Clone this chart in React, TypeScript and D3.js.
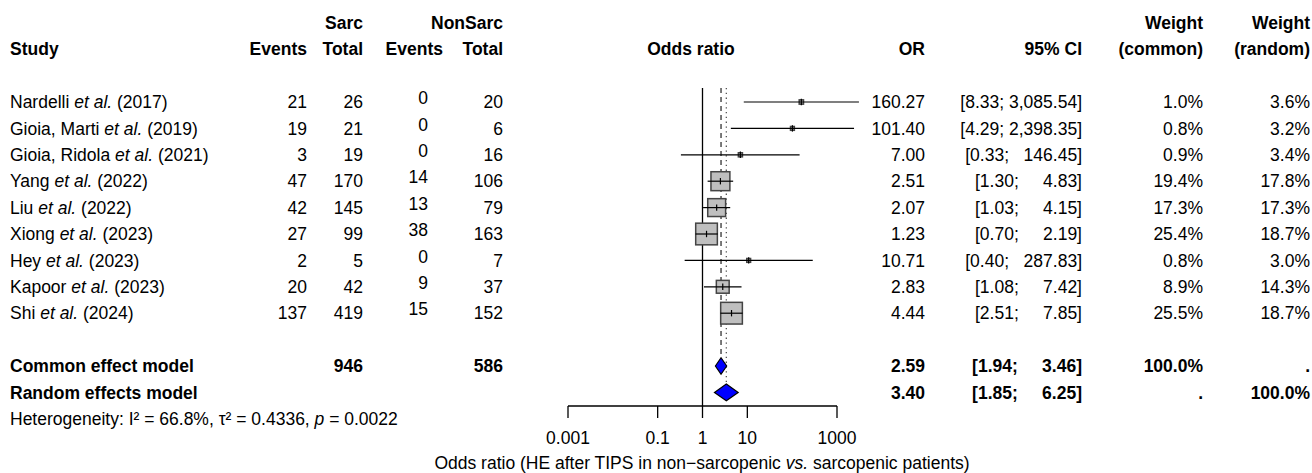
import * as d3 from "d3";

// study rows
const authors = ["Nardelli", "Gioia, Marti", "Gioia, Ridola", "Yang", "Liu", "Xiong", "Hey", "Kapoor", "Shi"];
const years = [2017, 2019, 2021, 2022, 2022, 2023, 2023, 2023, 2024];
const sarcEvents = [21, 19, 3, 47, 42, 27, 2, 20, 137];
const sarcTotal = [26, 21, 19, 170, 145, 99, 5, 42, 419];
const nonEvents = [0, 0, 0, 14, 13, 38, 0, 9, 15];
const nonTotal = [20, 6, 16, 106, 79, 163, 7, 37, 152];
const oddsRatio = [160.27, 101.4, 7.0, 2.51, 2.07, 1.23, 10.71, 2.83, 4.44];
const ciLower = [8.33, 4.29, 0.33, 1.3, 1.03, 0.7, 0.4, 1.08, 2.51];
const ciUpper = [3085.54, 2398.35, 146.45, 4.83, 4.15, 2.19, 287.83, 7.42, 7.85];
const weightCommon = [1.0, 0.8, 0.9, 19.4, 17.3, 25.4, 0.8, 8.9, 25.5];
const weightRandom = [3.6, 3.2, 3.4, 17.8, 17.3, 18.7, 3.0, 14.3, 18.7];

// pooled rows
const modelLabels = ["Common effect model", "Random effects model"];
const modelSarcTotal = ["946", ""];
const modelNonTotal = ["586", ""];
const modelOR = [2.59, 3.4];
const modelLower = [1.94, 1.85];
const modelUpper = [3.46, 6.25];
const modelWeightCommon = ["100.0%", "."];
const modelWeightRandom = [".", "100.0%"];

const axisTicks = [0.001, 0.1, 1, 10, 1000];

const width = 1312;
const height = 473;
const font = "'Liberation Sans', Arial, Helvetica, sans-serif";
const fs = 17.5;

// column right edges
const colSarcEv = 307;
const colSarcTot = 363;
const colNonEvHead = 443;
const colNonEv = 428;
const colNonTot = 503;
const colOR = 925;
const colCI = 1082;
const colWC = 1203;
const colWR = 1310;

const f2 = d3.format(",.2f");
const f1 = d3.format(".1f");
const ciText = (lo: number, hi: number) => `[${f2(lo)}; ${f2(hi).padStart(8, " ")}]`;

export default function App() {
  const x = d3.scaleLog().domain([0.001, 1000]).range([568, 837]);
  const rowY = d3.scaleLinear().domain([0, 1]).range([102, 128.4]);
  const box = d3.scaleSqrt().domain([0, 25.5]).range([0, 21.7]);

  const yTop = rowY(0) - 14;
  const yAxis = 406;
  const diamondH = 8.3;

  const txt = (props: any, content: any) => (
    <text fontFamily={font} fontSize={fs} dy="0.35em" style={{ whiteSpace: "pre" }} {...props}>
      {content}
    </text>
  );

  return (
    <svg width={width} height={height} style={{ position: "absolute", left: 0, top: 0, background: "#fff" }}>
      {/* headers */}
      {txt({ x: colSarcTot, y: rowY(-3), textAnchor: "end", fontWeight: "bold" }, "Sarc")}
      {txt({ x: colNonTot, y: rowY(-3), textAnchor: "end", fontWeight: "bold" }, "NonSarc")}
      {txt({ x: colWC, y: rowY(-3), textAnchor: "end", fontWeight: "bold" }, "Weight")}
      {txt({ x: colWR, y: rowY(-3), textAnchor: "end", fontWeight: "bold" }, "Weight")}
      {txt({ x: 10, y: rowY(-2), fontWeight: "bold" }, "Study")}
      {txt({ x: colSarcEv, y: rowY(-2), textAnchor: "end", fontWeight: "bold" }, "Events")}
      {txt({ x: colSarcTot, y: rowY(-2), textAnchor: "end", fontWeight: "bold" }, "Total")}
      {txt({ x: colNonEvHead, y: rowY(-2), textAnchor: "end", fontWeight: "bold" }, "Events")}
      {txt({ x: colNonTot, y: rowY(-2), textAnchor: "end", fontWeight: "bold" }, "Total")}
      {txt({ x: 691, y: rowY(-2), textAnchor: "middle", fontWeight: "bold" }, "Odds ratio")}
      {txt({ x: colOR, y: rowY(-2), textAnchor: "end", fontWeight: "bold" }, "OR")}
      {txt({ x: colCI, y: rowY(-2), textAnchor: "end", fontWeight: "bold" }, "95% CI")}
      {txt({ x: colWC, y: rowY(-2), textAnchor: "end", fontWeight: "bold" }, "(common)")}
      {txt({ x: colWR, y: rowY(-2), textAnchor: "end", fontWeight: "bold" }, "(random)")}

      {/* reference lines */}
      <line x1={x(1)} x2={x(1)} y1={yTop} y2={yAxis} stroke="#000" strokeWidth={1.3} />
      <line x1={x(modelOR[0])} x2={x(modelOR[0])} y1={yTop} y2={rowY(10) - diamondH - 1}
        stroke="#333" strokeWidth={1.3} strokeDasharray="5,4" />
      <line x1={x(modelOR[1])} x2={x(modelOR[1])} y1={yTop} y2={rowY(11) - diamondH - 1}
        stroke="#555" strokeWidth={1.3} strokeDasharray="1.3,3.5" />

      {/* study rows */}
      {authors.map((a, i) => {
        const y = rowY(i);
        const s = box(weightCommon[i]);
        return (
          <g key={a}>
            <text x={10} y={y} dy="0.35em" fontFamily={font} fontSize={fs}>
              {a} <tspan fontStyle="italic">et al.</tspan> ({years[i]})
            </text>
            {txt({ x: colSarcEv, y, textAnchor: "end" }, sarcEvents[i])}
            {txt({ x: colSarcTot, y, textAnchor: "end" }, sarcTotal[i])}
            {txt({ x: colNonEv, y: y - 4, textAnchor: "end" }, nonEvents[i])}
            {txt({ x: colNonTot, y, textAnchor: "end" }, nonTotal[i])}
            <rect x={x(oddsRatio[i]) - s / 2} y={y - s / 2} width={s} height={s}
              fill="#bfbfbf" stroke="#444" strokeWidth={1.5} />
            <line x1={x(ciLower[i])} x2={x(ciUpper[i])} y1={y} y2={y} stroke="#000" strokeWidth={1.2} />
            <line x1={x(oddsRatio[i])} x2={x(oddsRatio[i])} y1={y - 3.2} y2={y + 3.2} stroke="#000" strokeWidth={1.2} />
            {txt({ x: colOR, y, textAnchor: "end" }, f2(oddsRatio[i]))}
            {txt({ x: colCI, y, textAnchor: "end" }, ciText(ciLower[i], ciUpper[i]))}
            {txt({ x: colWC, y, textAnchor: "end" }, f1(weightCommon[i]) + "%")}
            {txt({ x: colWR, y, textAnchor: "end" }, f1(weightRandom[i]) + "%")}
          </g>
        );
      })}

      {/* pooled rows */}
      {modelLabels.map((m, j) => {
        const y = rowY(10 + j);
        const pts = [
          [x(modelLower[j]), y],
          [x(modelOR[j]), y - diamondH],
          [x(modelUpper[j]), y],
          [x(modelOR[j]), y + diamondH],
        ];
        return (
          <g key={m}>
            {txt({ x: 10, y, fontWeight: "bold" }, m)}
            {txt({ x: colSarcTot, y, textAnchor: "end", fontWeight: "bold" }, modelSarcTotal[j])}
            {txt({ x: colNonTot, y, textAnchor: "end", fontWeight: "bold" }, modelNonTotal[j])}
            <polygon points={pts.map((p) => p.join(",")).join(" ")} fill="#0000ff" stroke="#000" strokeWidth={1.2} />
            {txt({ x: colOR, y, textAnchor: "end", fontWeight: "bold" }, f2(modelOR[j]))}
            {txt({ x: colCI, y, textAnchor: "end", fontWeight: "bold" }, ciText(modelLower[j], modelUpper[j]))}
            {txt({ x: colWC, y, textAnchor: "end", fontWeight: "bold" }, modelWeightCommon[j])}
            {txt({ x: colWR, y, textAnchor: "end", fontWeight: "bold" }, modelWeightRandom[j])}
          </g>
        );
      })}

      <text x={10} y={rowY(12)} dy="0.35em" fontFamily={font} fontSize={fs}>
        Heterogeneity: I² = 66.8%, τ² = 0.4336, <tspan fontStyle="italic">p</tspan> = 0.0022
      </text>

      {/* axis */}
      <line x1={x(0.001)} x2={x(1000)} y1={yAxis} y2={yAxis} stroke="#000" strokeWidth={1.3} />
      {axisTicks.map((t) => (
        <g key={t}>
          <line x1={x(t)} x2={x(t)} y1={yAxis} y2={yAxis + 12} stroke="#000" strokeWidth={1.3} />
          {txt({ x: x(t), y: 438, textAnchor: "middle" }, d3.format("~g")(t))}
        </g>
      ))}
      <text x={702} y={463} dy="0.35em" textAnchor="middle" fontFamily={font} fontSize={fs}>
        Odds ratio (HE after TIPS in non−sarcopenic <tspan fontStyle="italic">vs.</tspan> sarcopenic patients)
      </text>
    </svg>
  );
}
